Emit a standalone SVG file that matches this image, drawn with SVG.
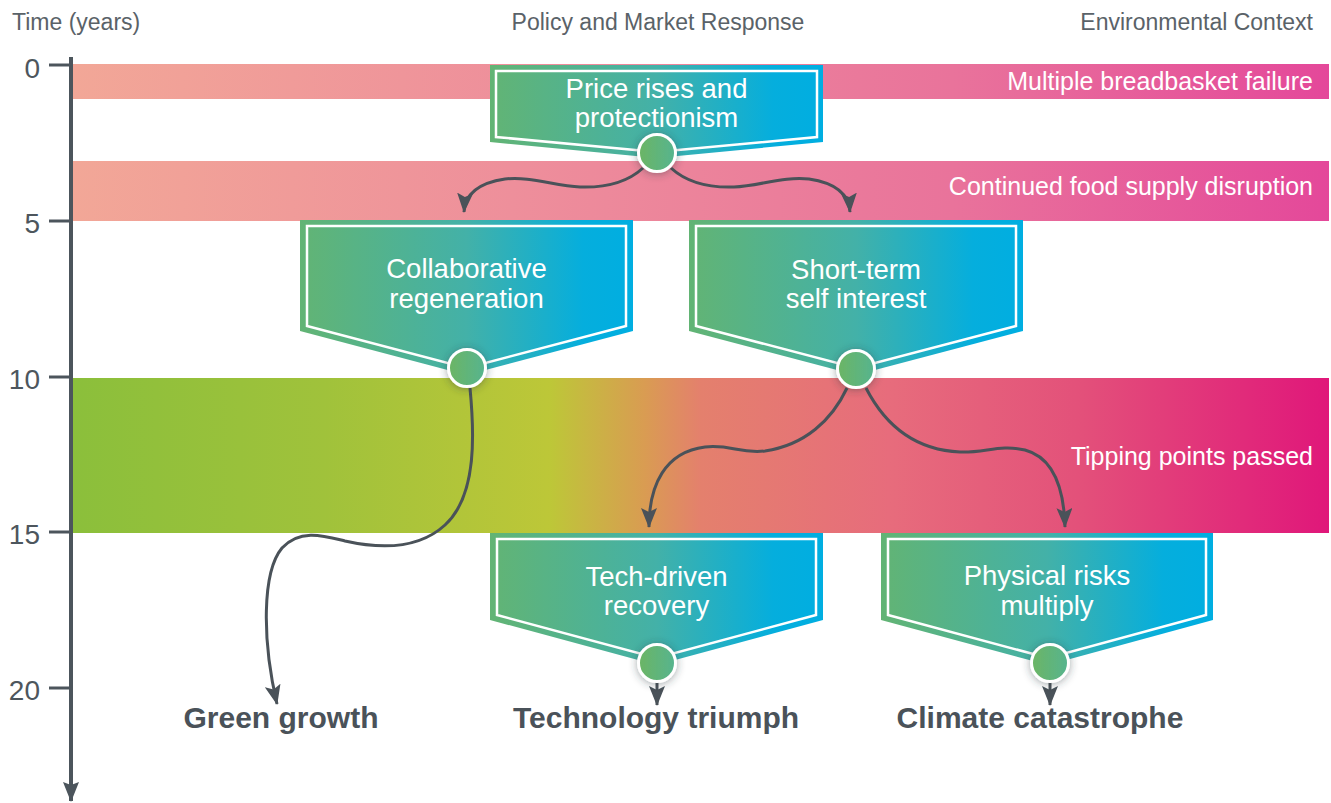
<svg xmlns="http://www.w3.org/2000/svg" width="1331" height="803" viewBox="0 0 1331 803">
<style>
.hdr{font-family:"Liberation Sans",Arial,sans-serif;font-size:23px;fill:#5a6268}
.tick{font-family:"Liberation Sans",Arial,sans-serif;font-size:28px;fill:#4d565d;text-anchor:end}
.band{font-family:"Liberation Sans",Arial,sans-serif;font-size:25px;fill:#ffffff;text-anchor:end}
.ntxt{font-family:"Liberation Sans",Arial,sans-serif;font-size:27.5px;fill:#ffffff;text-anchor:middle}
.out{font-family:"Liberation Sans",Arial,sans-serif;font-size:30px;font-weight:bold;fill:#4a5259;text-anchor:middle}
.conn{fill:none;stroke:#4a5259;stroke-width:3;marker-end:url(#arr)}
.shape{fill:url(#ng)}
.inner{fill:none;stroke:#ffffff;stroke-width:2.5;stroke-linejoin:miter}
.dot{fill:url(#cg);stroke:#ffffff;stroke-width:3;filter:url(#sh)}
.axis{stroke:#4c555c;stroke-width:4;fill:none}
.tk{stroke:#4c555c;stroke-width:3}
</style>
<defs>
<linearGradient id="bg1" gradientUnits="userSpaceOnUse" x1="73" y1="0" x2="1329" y2="0">
<stop offset="0" stop-color="#f2a797"/>
<stop offset="0.35" stop-color="#ee8f9b"/>
<stop offset="0.7" stop-color="#e9739b"/>
<stop offset="1" stop-color="#e4489a"/>
</linearGradient>
<linearGradient id="bg3" gradientUnits="userSpaceOnUse" x1="73" y1="0" x2="1329" y2="0">
<stop offset="0" stop-color="#8bbf3b"/>
<stop offset="0.2" stop-color="#a0c23b"/>
<stop offset="0.38" stop-color="#bdc738"/>
<stop offset="0.455" stop-color="#d99c52"/>
<stop offset="0.5" stop-color="#e4806d"/>
<stop offset="0.65" stop-color="#e76c7c"/>
<stop offset="0.8" stop-color="#e3517a"/>
<stop offset="1" stop-color="#e0177a"/>
</linearGradient>
<linearGradient id="ng" x1="0" y1="0" x2="1" y2="0">
<stop offset="0" stop-color="#62b474"/>
<stop offset="0.5" stop-color="#43b1a8"/>
<stop offset="0.85" stop-color="#05aedd"/>
<stop offset="1" stop-color="#00aee1"/>
</linearGradient>
<linearGradient id="cg" x1="0" y1="0" x2="1" y2="0">
<stop offset="0" stop-color="#6cb564"/>
<stop offset="1" stop-color="#56b48f"/>
</linearGradient>
<filter id="sh" x="-60%" y="-60%" width="220%" height="220%">
<feDropShadow dx="0" dy="1" stdDeviation="4" flood-color="#2a3a40" flood-opacity="0.45"/>
</filter>
<marker id="arr" markerUnits="userSpaceOnUse" viewBox="0 0 20 16" refX="19" refY="8" markerWidth="20" markerHeight="16" orient="auto">
<path d="M0,0 L20,8 L0,16 L4,8 Z" fill="#4a5259"/>
</marker>
<marker id="axarr" markerUnits="userSpaceOnUse" viewBox="0 0 20 16" refX="19" refY="8" markerWidth="20" markerHeight="16" orient="auto">
<path d="M0,0 L20,8 L0,16 L3,8 Z" fill="#4c555c"/>
</marker>
</defs>

<g id="bands">
<rect x="73" y="64" width="1256" height="35" fill="url(#bg1)"/>
<rect x="73" y="161" width="1256" height="60" fill="url(#bg1)"/>
<rect x="73" y="378" width="1256" height="155" fill="url(#bg3)"/>
<text class="band" x="1313" y="90">Multiple breadbasket failure</text>
<text class="band" x="1313" y="195">Continued food supply disruption</text>
<text class="band" x="1313" y="465">Tipping points passed</text>
</g>

<g id="headers">
<text class="hdr" x="12" y="30">Time (years)</text>
<text class="hdr" x="658" y="30" text-anchor="middle">Policy and Market Response</text>
<text class="hdr" x="1313" y="30" text-anchor="end">Environmental Context</text>
</g>

<g id="axis">
<path class="axis" d="M71,57 L71,801" marker-end="url(#axarr)"/>
<line class="tk" x1="49" y1="65" x2="71" y2="65"/>
<line class="tk" x1="49" y1="221" x2="71" y2="221"/>
<line class="tk" x1="49" y1="377" x2="71" y2="377"/>
<line class="tk" x1="49" y1="532" x2="71" y2="532"/>
<line class="tk" x1="49" y1="688" x2="71" y2="688"/>
<text class="tick" x="40" y="78">0</text>
<text class="tick" x="40" y="233">5</text>
<text class="tick" x="40" y="389">10</text>
<text class="tick" x="40" y="544">15</text>
<text class="tick" x="40" y="700">20</text>
</g>

<g id="connectors">
<path class="conn" d="M643,168 C630,180 610,188 580,187 C555,186 530,176 505,179 C478,183 465,195 464,212"/>
<path class="conn" d="M671,168 C684,180 704,188 734,187 C759,186 784,176 809,179 C836,183 849,195 850,212"/>
<path class="conn" d="M470,388 C474,430 478,495 445,525 C420,548 385,550 345,541 C325,536 300,528 282,548 C262,572 262,640 277,704"/>
<path class="conn" d="M847,388 C832,420 805,445 765,451 C740,454 730,444 705,447 C665,452 649,485 649,527"/>
<path class="conn" d="M866,388 C885,425 915,450 960,452 C985,453 1000,444 1025,450 C1055,458 1064,490 1065,527"/>
<path class="conn" d="M657,680 L657,705"/>
<path class="conn" d="M1050,680 L1050,705"/>
</g>

<g id="node-price">
<polygon class="shape" points="490,65 823,65 823,142 656.5,158 490,142"/>
<polygon class="inner" points="496,71 817,71 817,137 656.5,152 496,137"/>
<text class="ntxt" x="656.5" y="98">Price rises and</text>
<text class="ntxt" x="656.5" y="127">protectionism</text>
<circle class="dot" cx="657" cy="153" r="18.5"/>
</g>

<g id="node-collab">
<polygon class="shape" points="300,220 633,220 633,331 466.5,375 300,331"/>
<polygon class="inner" points="307,226 626,226 626,326 466.5,368 307,326"/>
<text class="ntxt" x="466.5" y="278">Collaborative</text>
<text class="ntxt" x="466.5" y="308">regeneration</text>
<circle class="dot" cx="467" cy="368" r="18.5"/>
</g>

<g id="node-short">
<polygon class="shape" points="689,220 1023,220 1023,331 856,375 689,331"/>
<polygon class="inner" points="696,226 1016,226 1016,326 856,368 696,326"/>
<text class="ntxt" x="856" y="279">Short-term</text>
<text class="ntxt" x="856" y="308">self interest</text>
<circle class="dot" cx="856" cy="369" r="18.5"/>
</g>

<g id="node-tech">
<polygon class="shape" points="490,533 823,533 823,620 656.5,665 490,620"/>
<polygon class="inner" points="497,539 816,539 816,615 656.5,658 497,615"/>
<text class="ntxt" x="656.5" y="586">Tech-driven</text>
<text class="ntxt" x="656.5" y="615">recovery</text>
<circle class="dot" cx="657" cy="663" r="18.5"/>
</g>

<g id="node-physical">
<polygon class="shape" points="881,533 1213,533 1213,620 1048,665 881,620"/>
<polygon class="inner" points="888,539 1206,539 1206,615 1048,658 888,615"/>
<text class="ntxt" x="1047" y="585">Physical risks</text>
<text class="ntxt" x="1047" y="615">multiply</text>
<circle class="dot" cx="1050" cy="663" r="18.5"/>
</g>

<g id="outcomes">
<text class="out" x="281" y="728">Green growth</text>
<text class="out" x="656" y="728">Technology triumph</text>
<text class="out" x="1040" y="728">Climate catastrophe</text>
</g>
</svg>
